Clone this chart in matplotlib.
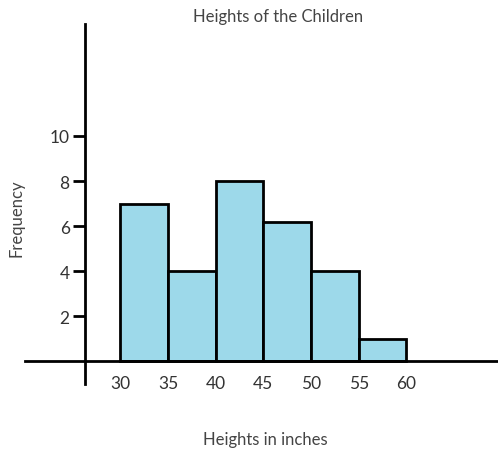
import matplotlib.pyplot as plt

# bin edges and counts
bin_left = [30, 35, 40, 45, 50, 55]
counts = [7, 4, 8, 6.2, 4, 1]
bin_width = 5
x_ticks = [30, 35, 40, 45, 50, 55, 60]
y_ticks = [2, 4, 6, 8, 10]

plt.rcParams['font.family'] = ['Lato', 'DejaVu Sans']

fig = plt.figure(figsize=(4.98, 4.52), dpi=100)
ax = fig.add_axes([0.05, 0.148, 0.95, 0.797])

ax.bar(bin_left, counts, width=bin_width, align='edge', color='#9dd9ea',
       edgecolor='black', linewidth=2)

ax.set_xlim(20, 69.6)
ax.set_ylim(-1.02, 14.98)

# axes cross like a hand-drawn plot
ax.spines['top'].set_visible(False)
ax.spines['right'].set_visible(False)
ax.spines['left'].set_position(('data', 26.3))
ax.spines['bottom'].set_position(('data', 0))
ax.spines['left'].set_linewidth(2)
ax.spines['bottom'].set_linewidth(2)

ax.set_xticks(x_ticks)
ax.set_xticklabels([str(t) for t in x_ticks], fontsize=12.5, color='#333333')
ax.tick_params(axis='x', length=0, pad=10)
ax.set_yticks(y_ticks)
ax.set_yticklabels([str(t) for t in y_ticks], fontsize=12.5, color='#333333')
ax.tick_params(axis='y', length=9, width=2, pad=2)

fig.text(278 / 498, 1 - 17 / 452, 'Heights of the Children', ha='center',
         va='center', fontsize=12, color='#444444')
fig.text(265 / 498, 1 - 440 / 452, 'Heights in inches', ha='center',
         va='center', fontsize=12, color='#444444')
fig.text(17 / 498, 1 - 218 / 452, 'Frequency', ha='center', va='center',
         rotation=90, fontsize=12, color='#444444')

fig.savefig('out.png', dpi=100)
